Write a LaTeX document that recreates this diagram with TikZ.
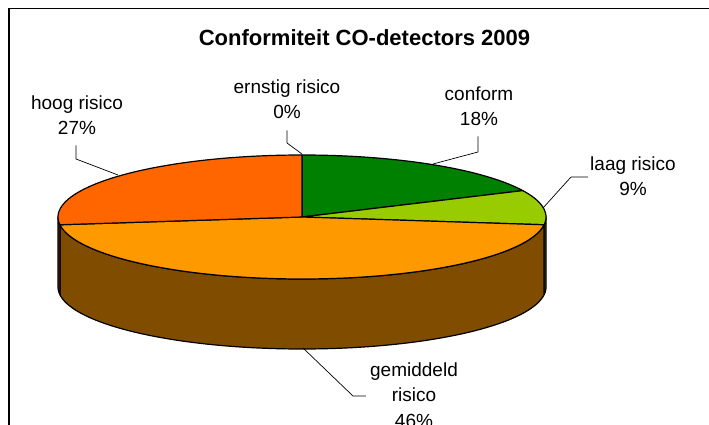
\documentclass[tikz,border=0pt]{standalone}
\usepackage{fontspec}
\setmainfont{Liberation Sans}

\definecolor{conformTop}{HTML}{008000}
\definecolor{laagTop}{HTML}{99CC00}
\definecolor{laagSide}{HTML}{4C6600}
\definecolor{gemTop}{HTML}{FF9900}
\definecolor{gemSide}{HTML}{7F4C00}
\definecolor{hoogTop}{HTML}{FF6600}
\definecolor{hoogSide}{HTML}{803300}

% pie geometry (pixel units, y grows downwards)
\def\cx{302}\def\cy{217}\def\ra{244}\def\rb{62}\def\dep{70}

% top face of a slice between two angles (increasing)
\newcommand\pieTop[3]{%
  \path[rim, fill=#1] (\cx,\cy) --
    plot[domain=#2:#3, samples=80] ({\cx+\ra*cos(\x)},{\cy-\rb*sin(\x)}) -- cycle;}
% front wall of a slice between two angles (increasing)
\newcommand\pieSide[3]{%
  \path[rim, fill=#1]
    plot[domain=#2:#3, samples=80] ({\cx+\ra*cos(\x)},{\cy-\rb*sin(\x)}) --
    plot[domain=#2:#3, samples=80] ({\cx+\ra*cos((#2)+(#3)-\x)},{\cy+\dep-\rb*sin((#2)+(#3)-\x)}) -- cycle;}

\tikzset{
  rim/.style={draw=black, line width=1.2pt, line join=round},
  leader/.style={draw=black, line width=0.7pt},
  lbl/.style={font=\fontsize{19}{25.5}\selectfont, align=center, inner sep=0pt, anchor=north},
  heading/.style={font=\fontsize{22}{26}\selectfont\bfseries, inner sep=0pt, anchor=north},
}

\begin{document}
\begin{tikzpicture}[x=1pt, y=-1pt]
  \useasboundingbox (0,0) rectangle (709,425);
  \clip (0,0) rectangle (709,425);

  % chart border
  \draw[line width=1.5pt] (9,8.5) rectangle (722,440);

  % front walls
  \pieSide{laagSide}{-7.2}{0}
  \pieSide{gemSide}{-172.8}{-7.2}
  \pieSide{hoogSide}{-180}{-172.8}

  % top faces
  \pieTop{conformTop}{25.2}{90}
  \pieTop{laagTop}{-7.2}{25.2}
  \pieTop{gemTop}{-172.8}{-7.2}
  \pieTop{hoogTop}{90}{187.2}

  % title and labels
  \node[heading] (title) at (364.5,29) {Conformiteit CO-detectors 2009};
  \node[lbl] (hoog)    at (77,95.5)   {hoog risico\\27\%};
  \node[lbl] (ernstig) at (287,79.5)  {ernstig risico\\0\%};
  \node[lbl] (conform) at (479,86.5)  {conform\\18\%};
  \node[lbl] (laag)    at (633,156.5) {laag risico\\9\%};
  \node[lbl] (gem)     at (414,362.5) {gemiddeld\\risico\\46\%};

  % leader lines
  \coordinate (hoogK) at (76,159);     \coordinate (hoogP) at (118,175);
  \coordinate (ernstigK) at (287,143); \coordinate (ernstigP) at (302,154);
  \coordinate (conformK) at (478,152); \coordinate (conformP) at (433,164);
  \coordinate (laagK) at (571,177);    \coordinate (laagP) at (543,208);
  \coordinate (gemK) at (353,396);     \coordinate (gemP) at (303,348);

  \draw[leader] (hoog.south -| hoogK) ++(0,10) -- (hoogK) -- (hoogP);
  \draw[leader] (ernstig.south -| ernstigK) ++(0,11) -- (ernstigK) -- (ernstigP);
  \draw[leader] (conform.south -| conformK) ++(0,10) -- (conformK) -- (conformP);
  \draw[leader] (laag.west |- laagK) ++(-2,0) -- (laagK) -- (laagP);
  \draw[leader] (gem.west |- gemK) ++(-4,0) -- (gemK) -- (gemP);
\end{tikzpicture}
\end{document}
